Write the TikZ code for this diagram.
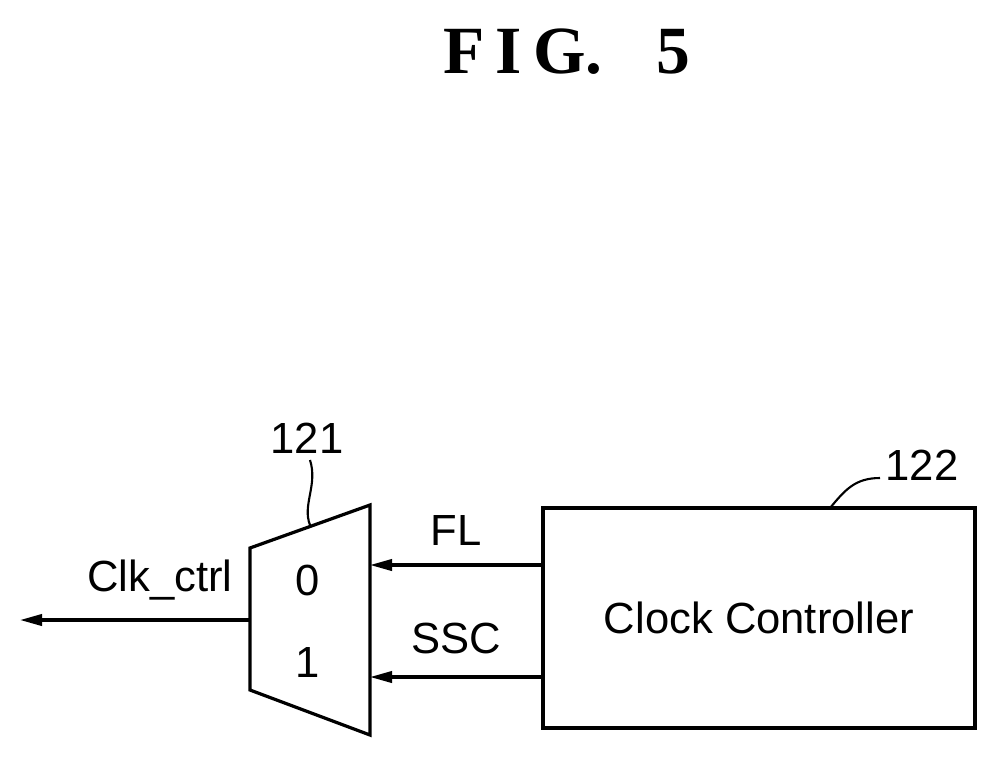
\documentclass[tikz,border=0pt]{standalone}
\usepackage{fontspec}
\setmainfont{Liberation Sans}
\newfontfamily\figfont{Liberation Serif}
\usetikzlibrary{arrows.meta,positioning}
\tikzset{
  >={Triangle[length=5.5mm,width=2.8mm]},
  every node/.style={inner sep=0mm,outer sep=0mm},
  lbl/.style={font=\fontsize{31}{36}\selectfont},
  wire/.style={line width=2.3pt}
}
\begin{document}
\begin{tikzpicture}[x=0.025cm,y=-0.025cm]
  \useasboundingbox (0,0) rectangle (1004,759);
  \node (Fig) at (567,52) {\figfont\bfseries\fontsize{48}{54}\selectfont F\,I\,G.\hspace{0.8em}5};

  % mux
  \coordinate (Mux_tl) at (250,548);
  \coordinate (Mux_bl) at (250,690);
  \coordinate (Mux_tr) at (370,505);
  \coordinate (Mux_br) at (370,735);
  \draw [wire] (Mux_tl) -- (Mux_tr) -- (Mux_br) -- (Mux_bl) -- cycle;
  \node (Mux_in0) [lbl] at (308,580) {0};
  \node (Mux_in1) [lbl] at (308,662) {1};
  \coordinate (Mux_out) at (250,620);
  \coordinate (Mux_fl) at (370,565);
  \coordinate (Mux_ssc) at (370,677);

  % clock controller
  \node (Ctrl) [draw,wire,minimum width=10.8cm,minimum height=5.5cm,lbl] at (759,618) {Clock Controller};

  \coordinate (Out_end) at (20,620);
  \draw [wire,->] (Mux_out) -- (Out_end);
  \node (Clk_ctrl) [lbl] at (160,580) {Clk\_ctrl};

  \draw [wire,->] (Ctrl.west|-Mux_fl) -- (Mux_fl);
  \node (FL) [lbl] at (456,530) {FL};
  \draw [wire,->] (Ctrl.west|-Mux_ssc) -- (Mux_ssc);
  \node (SSC) [lbl] at (456,638) {SSC};

  % reference numerals
  \node (Ref_121) [lbl] at (307,438) {121};
  \draw [line width=1.5pt] (310,525) .. controls (302,505) and (318,485) .. (310,460);
  \node (Ref_122) [lbl] at (922,465) {122};
  \draw [line width=1.5pt] (830,508) .. controls (845,490) and (855,478) .. (880,478);
\end{tikzpicture}
\end{document}
